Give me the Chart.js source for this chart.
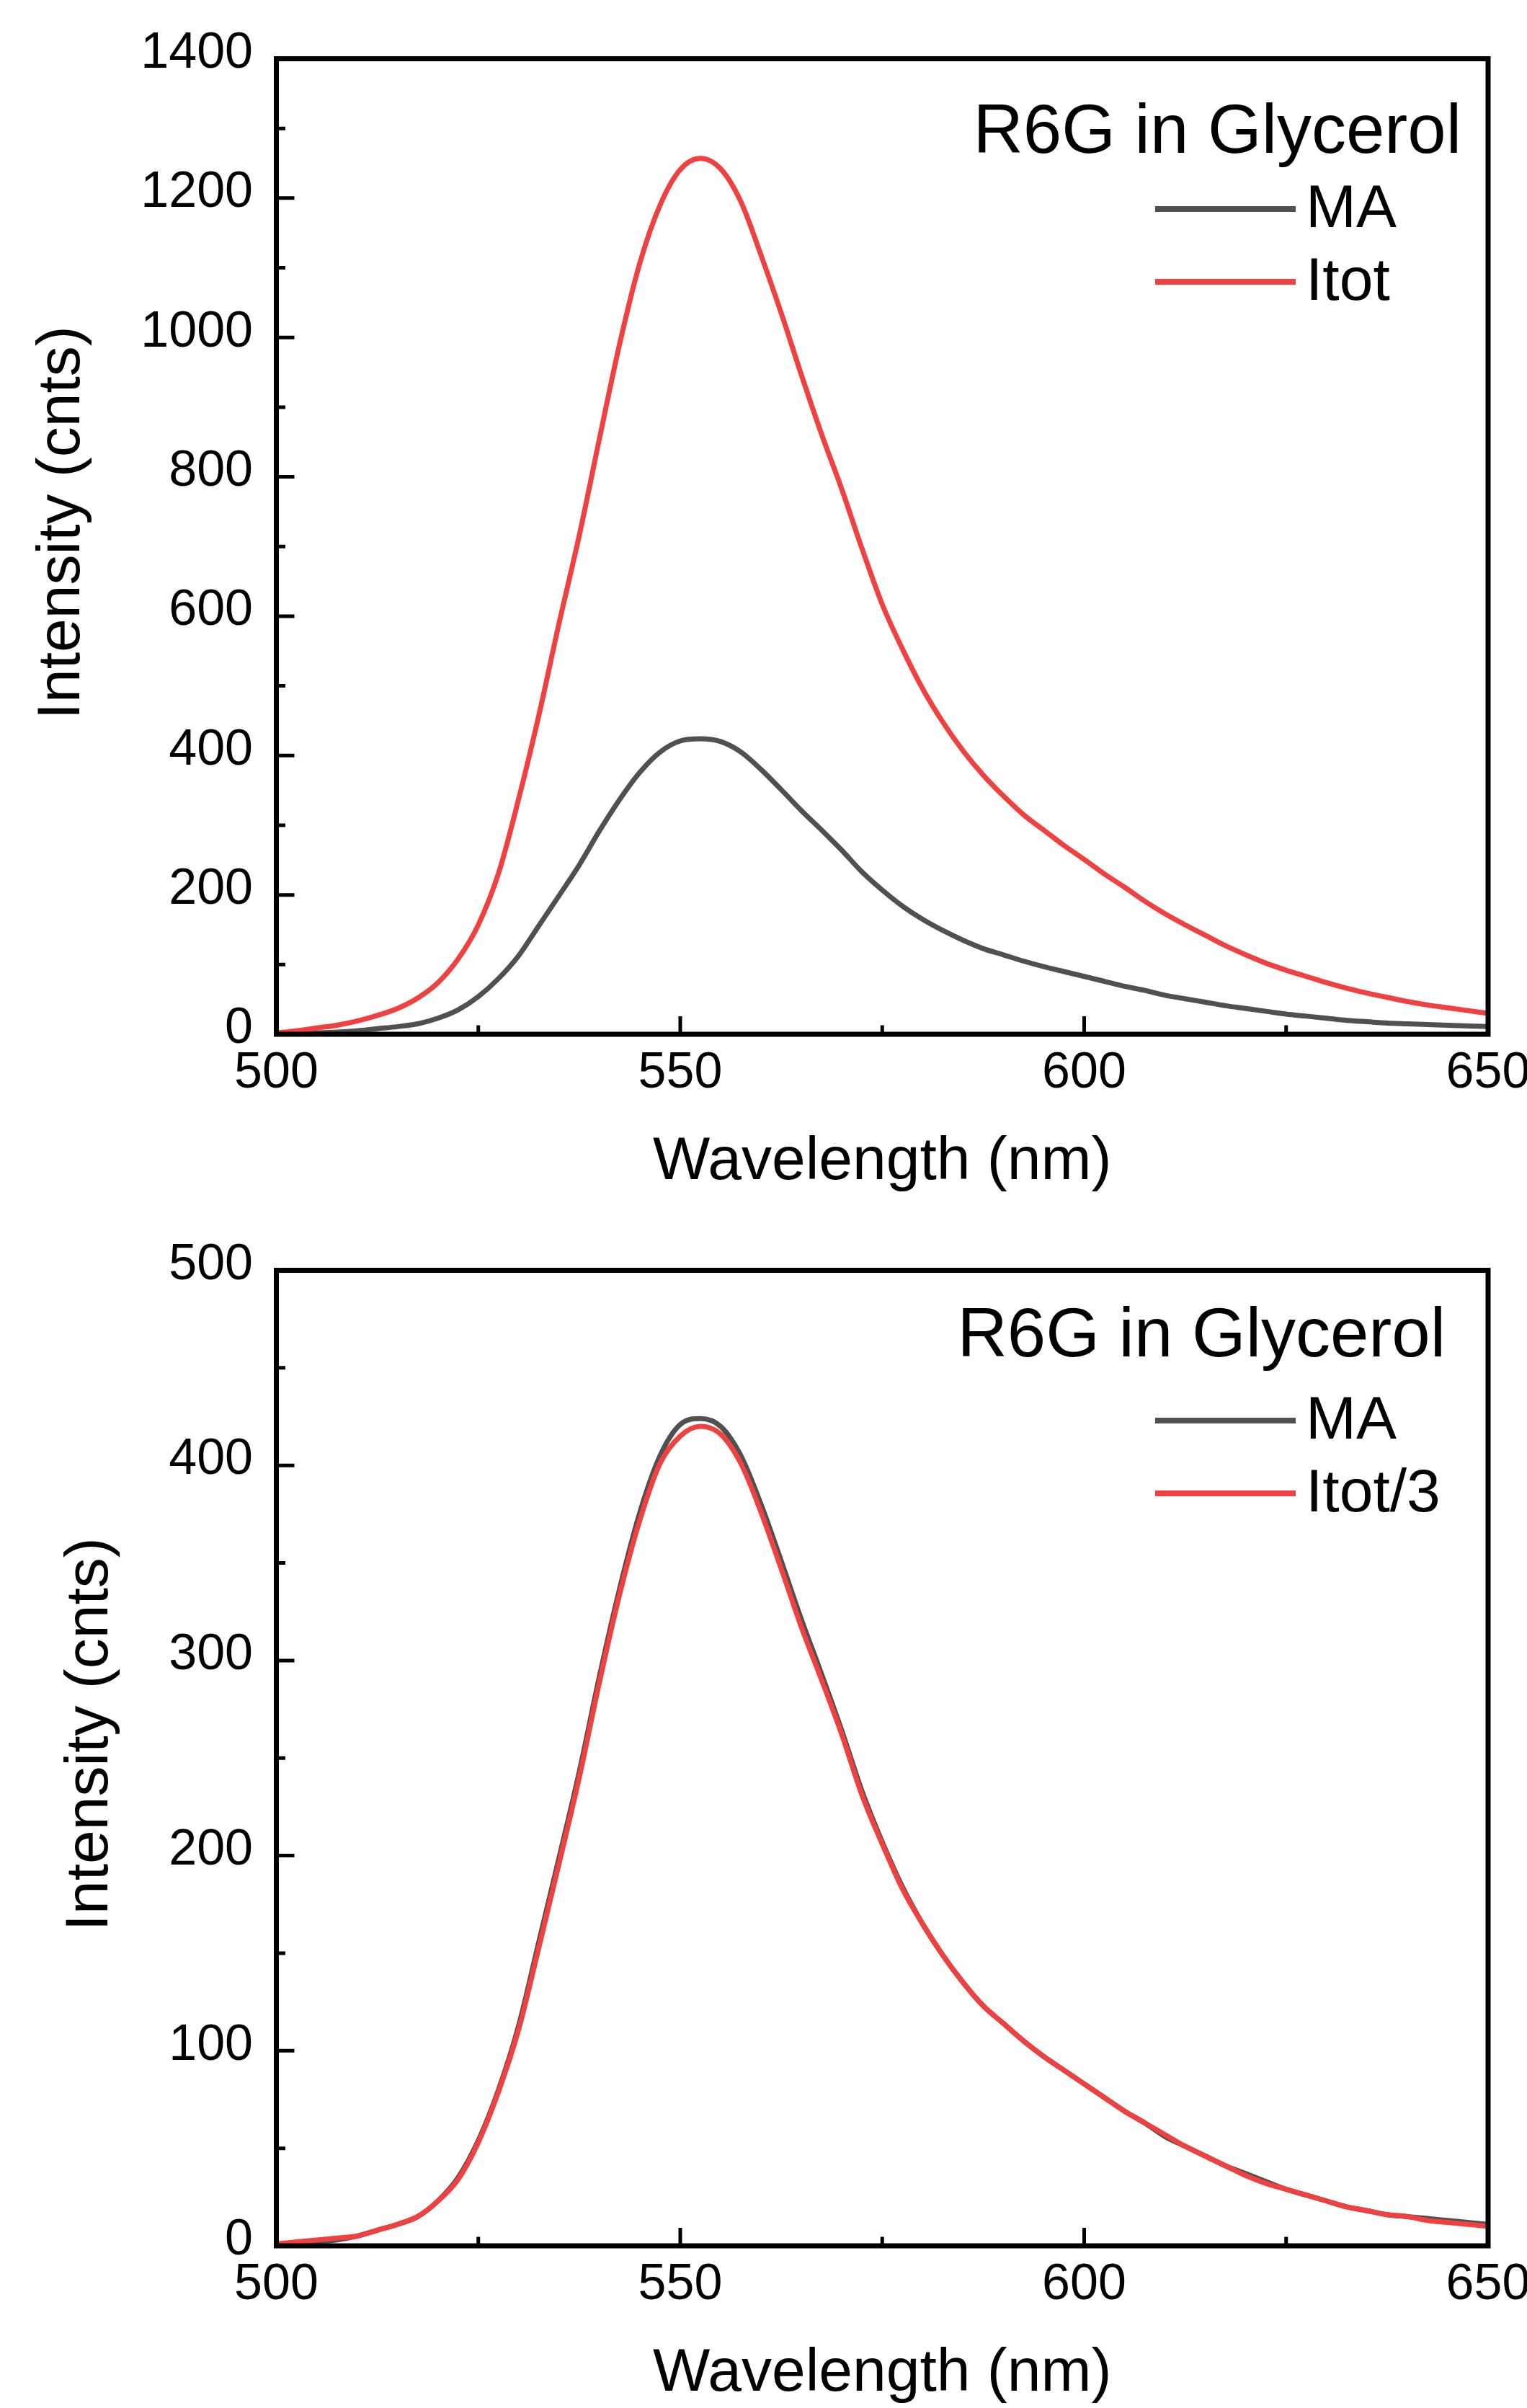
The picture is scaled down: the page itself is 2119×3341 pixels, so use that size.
<!DOCTYPE html>
<html>
<head>
<meta charset="utf-8">
<script src="https://cdn.jsdelivr.net/npm/chart.js@4.4.1/dist/chart.umd.min.js"></script>
<style>
    html, body { margin: 0; padding: 0; background: #fff; overflow: hidden; }
    body { width: 2119px; height: 3341px; position: relative; }
    .panel { position: absolute; left: 0; width: 2119px; height: 1700px; }
    #topPanel { top: 0; }
    #bottomPanel { top: 1681px; }
</style>
</head>
<body>
<div class="panel" id="topPanel"><canvas id="topChart" width="2119" height="1700"></canvas></div>
<div class="panel" id="bottomPanel"><canvas id="bottomChart" width="2119" height="1700"></canvas></div>
<script>
// wavelength grid (nm)
const wavelength = [
    500, 502.5, 505, 507.5, 510, 512.5, 515, 517.5, 520, 522.5,
    525, 527.5, 530, 532.5, 535, 537.5, 540, 542.5, 545, 547.5,
    550, 552.5, 555, 557.5, 560, 562.5, 565, 567.5, 570, 572.5,
    575, 577.5, 580, 582.5, 585, 587.5, 590, 592.5, 595, 597.5,
    600, 602.5, 605, 607.5, 610, 612.5, 615, 617.5, 620, 622.5,
    625, 627.5, 630, 632.5, 635, 637.5, 640, 642.5, 645, 647.5,
    650
];

// MA intensity (cnts)
const maCounts = [
    0, 1, 2, 3, 5, 8, 11, 15, 23, 35,
    54, 80, 113, 156, 199, 243, 292, 337, 376, 405,
    421, 424, 420, 405, 380, 351, 321, 293, 264, 233,
    207, 184, 165, 149, 135, 123, 114, 105, 97, 90,
    83, 76, 69, 63, 56, 51, 46, 41, 37, 33,
    29, 26, 23, 20, 18, 16, 15, 14, 13, 12,
    11
];

// Itot intensity (cnts)
const itotCounts = [
    2, 5, 9, 13, 19, 27, 37, 52, 74, 108,
    157, 231, 338, 458, 590, 716, 855, 991, 1107, 1190,
    1241, 1257, 1242, 1195, 1118, 1035, 946, 861, 782, 697,
    617, 553, 496, 448, 407, 372, 342, 315, 293, 271,
    251, 230, 211, 191, 173, 157, 142, 127, 114, 102,
    92, 83, 74, 66, 59, 53, 47, 42, 38, 34,
    30
];

// Itot/3 intensity (cnts)
const itotThirdCounts = [
    1, 2, 3, 4, 5, 8, 11, 15, 23, 34,
    53, 79, 111, 153, 196, 240, 289, 334, 372, 401,
    415, 420, 416, 401, 376, 347, 317, 290, 262, 231,
    206, 183, 165, 149, 135, 123, 114, 105, 97, 90,
    83, 76, 69, 63, 57, 51, 46, 41, 36, 32,
    29, 26, 23, 20, 18, 16, 15, 13, 12, 11,
    10
];

const xTicks = [500, 550, 600, 650];
const xMinorTicks = [525, 575, 625];
const topYTicks = [0, 200, 400, 600, 800, 1000, 1200, 1400];
const topYMinorTicks = [100, 300, 500, 700, 900, 1100, 1300];
const bottomYTicks = [0, 100, 200, 300, 400, 500];
const bottomYMinorTicks = [50, 150, 250, 350, 450];

const FONT = "'Liberation Sans', Arial, sans-serif";
const GRAY = '#505050';
const RED = '#F04040';

// frame, inward ticks, y title and the in-plot legend
const framePlugin = {
    id: 'frame',
    afterDraw(chart, args, o) {
        const ctx = chart.ctx;
        const a = chart.chartArea;
        const x = chart.scales.x;
        const y = chart.scales.y;
        ctx.save();
        ctx.strokeStyle = '#000';
        ctx.lineWidth = 5;
        ctx.beginPath();
        xTicks.forEach(v => {
            const px = x.getPixelForValue(v);
            ctx.moveTo(px, a.bottom);
            ctx.lineTo(px, a.bottom - 25);
        });
        xMinorTicks.forEach(v => {
            const px = x.getPixelForValue(v);
            ctx.moveTo(px, a.bottom);
            ctx.lineTo(px, a.bottom - 12.5);
        });
        o.yTicks.forEach(v => {
            const py = y.getPixelForValue(v);
            ctx.moveTo(a.left, py);
            ctx.lineTo(a.left + 25, py);
        });
        o.yMinor.forEach(v => {
            const py = y.getPixelForValue(v);
            ctx.moveTo(a.left, py);
            ctx.lineTo(a.left + 12.5, py);
        });
        ctx.stroke();

        ctx.lineWidth = 7;
        ctx.strokeRect(a.left, a.top, a.right - a.left, a.bottom - a.top);

        // y axis title
        ctx.fillStyle = '#000';
        ctx.font = '84px ' + FONT;
        ctx.textAlign = 'center';
        ctx.textBaseline = 'middle';
        ctx.save();
        ctx.translate(o.yTitleX, (a.top + a.bottom) / 2 - 33);
        ctx.rotate(-Math.PI / 2);
        ctx.fillText('Intensity (cnts)', 0, 0);
        ctx.restore();

        // legend
        ctx.textAlign = 'left';
        ctx.textBaseline = 'alphabetic';
        ctx.font = '96px ' + FONT;
        ctx.fillText(o.heading, a.left + o.headDx, a.top + o.headDy);
        ctx.font = '84px ' + FONT;
        chart.data.datasets.forEach((ds, i) => {
            const ly = a.top + 208.5 + i * 101;
            ctx.strokeStyle = ds.borderColor;
            ctx.lineWidth = 8;
            ctx.beginPath();
            ctx.moveTo(a.left + 1219.5, ly);
            ctx.lineTo(a.left + 1414.5, ly);
            ctx.stroke();
            ctx.fillText(ds.label, a.left + 1428.5, ly + 25);
        });
        ctx.restore();
    }
};

function makeChart(canvasId, series, yMax, yTicks, yMinor, frameOpts) {
    return new Chart(document.getElementById(canvasId), {
        type: 'line',
        data: {
            datasets: series.map(s => ({
                label: s.label,
                data: wavelength.map((w, i) => ({ x: w, y: s.values[i] })),
                borderColor: s.color,
                borderWidth: 7,
                pointRadius: 0,
                cubicInterpolationMode: 'monotone',
                fill: false,
                order: s.order
            }))
        },
        options: {
            responsive: false,
            animation: false,
            layout: { padding: { top: 81.5, right: 54, left: 0, bottom: 0 } },
            plugins: {
                legend: { display: false },
                tooltip: { enabled: false },
                frame: Object.assign({ yTicks: yTicks, yMinor: yMinor }, frameOpts)
            },
            scales: {
                x: {
                    type: 'linear',
                    min: 500,
                    max: 650,
                    afterBuildTicks: s => { s.ticks = xTicks.map(v => ({ value: v })); },
                    afterFit: s => { s.height = 265; s.paddingLeft = 0; s.paddingRight = 0; },
                    grid: { display: false, drawTicks: false },
                    border: { display: false },
                    ticks: {
                        color: '#000',
                        font: { family: FONT, size: 70 },
                        padding: 13,
                        maxRotation: 0,
                        autoSkip: false,
                        callback: v => String(v)
                    },
                    title: {
                        display: true,
                        text: 'Wavelength (nm)',
                        color: '#000',
                        font: { family: FONT, size: 84 },
                        padding: { top: 0, bottom: 37 }
                    }
                },
                y: {
                    type: 'linear',
                    min: 0,
                    max: yMax,
                    afterBuildTicks: s => { s.ticks = yTicks.map(v => ({ value: v })); },
                    afterFit: s => { s.width = 383.5; s.paddingTop = 0; s.paddingBottom = 0; },
                    grid: { display: false, drawTicks: false },
                    border: { display: false },
                    ticks: {
                        color: '#000',
                        font: { family: FONT, size: 70 },
                        padding: 32.5,
                        labelOffset: -7,
                        autoSkip: false,
                        callback: v => String(v)
                    },
                    title: { display: false }
                }
            }
        },
        plugins: [framePlugin]
    });
}

makeChart('topChart', [
    { label: 'MA', values: maCounts, color: GRAY, order: 1 },
    { label: 'Itot', values: itotCounts, color: RED, order: 0 }
], 1400, topYTicks, topYMinorTicks, { yTitleX: 87, heading: 'R6G in Glycerol', headDx: 967, headDy: 130.5 });

makeChart('bottomChart', [
    { label: 'MA', values: maCounts, color: GRAY, order: 1 },
    { label: 'Itot/3', values: itotThirdCounts, color: RED, order: 0 }
], 500, bottomYTicks, bottomYMinorTicks, { yTitleX: 126, heading: 'R6G in Glycerol', headDx: 945, headDy: 119.5 });
</script>
</body>
</html>
